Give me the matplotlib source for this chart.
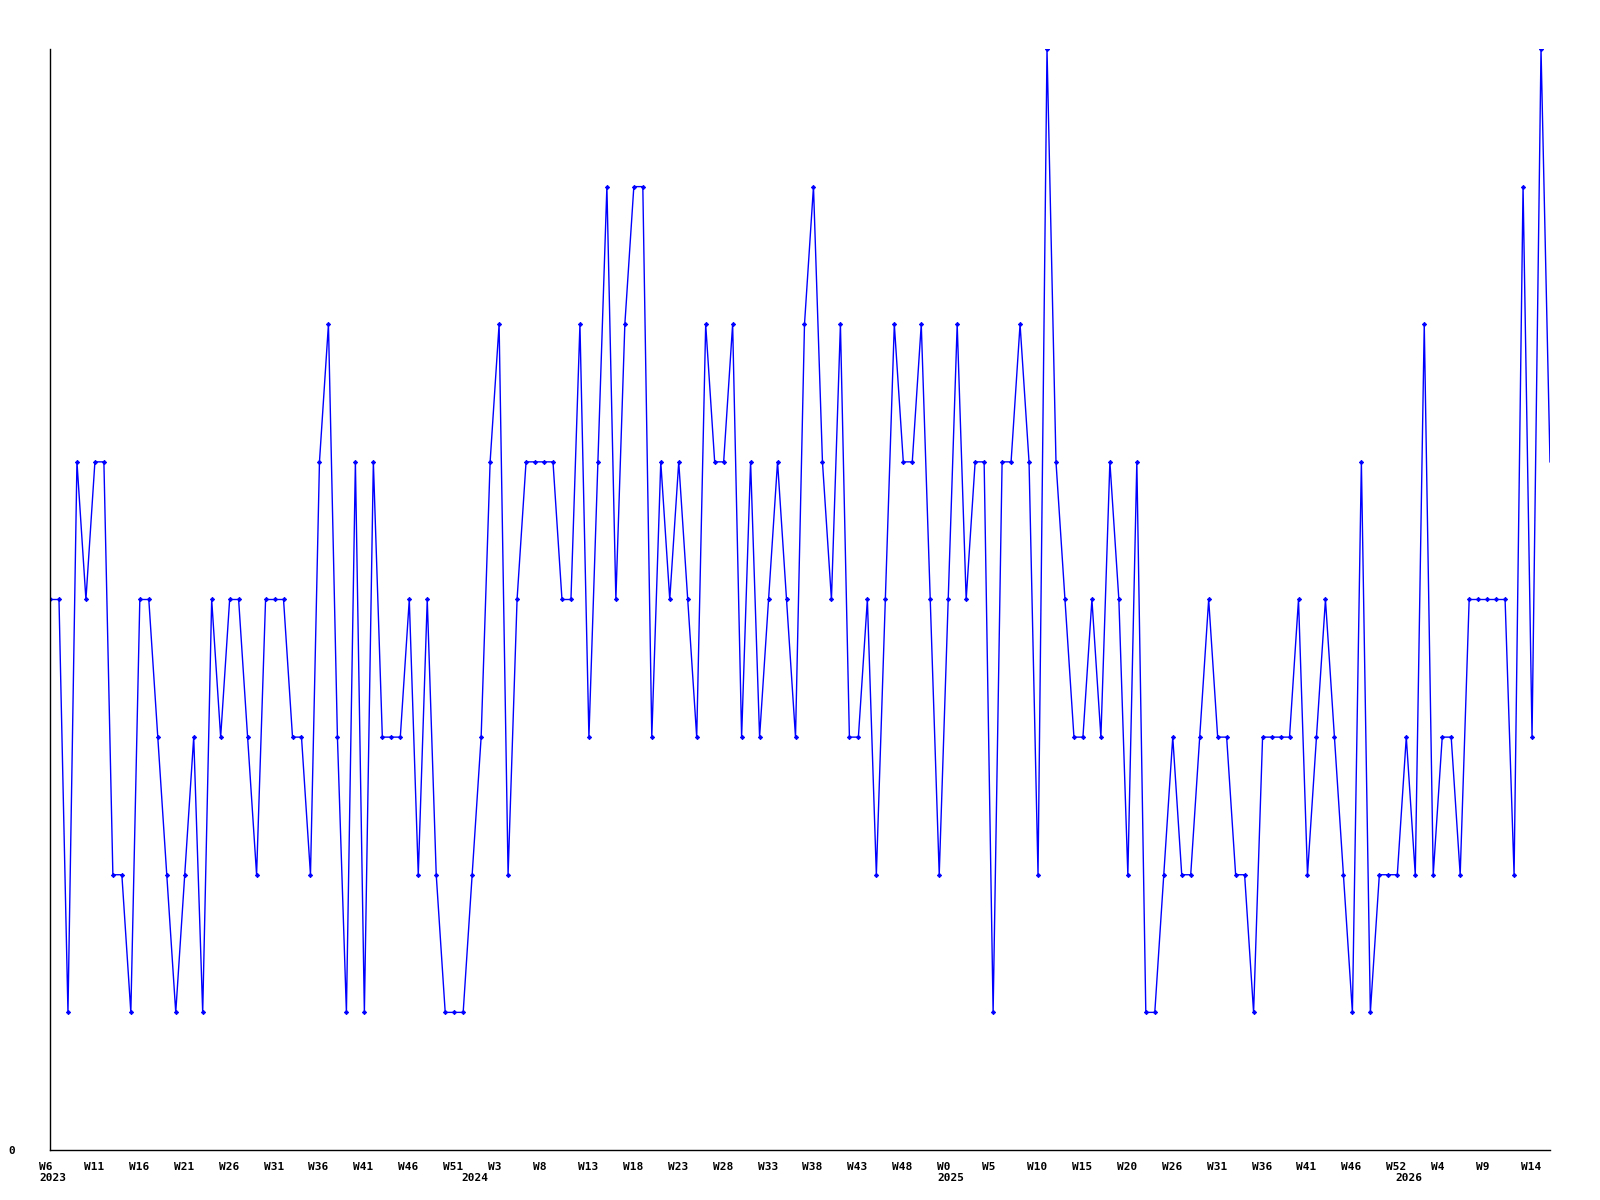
import matplotlib
matplotlib.use("Agg")
import matplotlib.pyplot as plt
from matplotlib.transforms import ScaledTranslation, blended_transform_factory

# weekly counts, one per point
values = [4, 4, 1, 5, 4, 5, 5, 2, 2, 1,
          4, 4, 3, 2, 1, 2, 3, 1, 4, 3,
          4, 4, 3, 2, 4, 4, 4, 3, 3, 2,
          5, 6, 3, 1, 5, 1, 5, 3, 3, 3,
          4, 2, 4, 2, 1, 1, 1, 2, 3, 5,
          6, 2, 4, 5, 5, 5, 5, 4, 4, 6,
          3, 5, 7, 4, 6, 7, 7, 3, 5, 4,
          5, 4, 3, 6, 5, 5, 6, 3, 5, 3,
          4, 5, 4, 3, 6, 7, 5, 4, 6, 3,
          3, 4, 2, 4, 6, 5, 5, 6, 4, 2,
          4, 6, 4, 5, 5, 1, 5, 5, 6, 5,
          2, 8, 5, 4, 3, 3, 4, 3, 5, 4,
          2, 5, 1, 1, 2, 3, 2, 2, 3, 4,
          3, 3, 2, 2, 1, 3, 3, 3, 3, 4,
          2, 3, 4, 3, 2, 1, 5, 1, 2, 2,
          2, 3, 2, 6, 2, 3, 3, 2, 4, 4,
          4, 4, 4, 2, 7, 3, 8, 5]

week_labels = ["W6", "W11", "W16", "W21", "W26", "W31", "W36", "W41", "W46", "W51",
               "W3", "W8", "W13", "W18", "W23", "W28", "W33", "W38", "W43", "W48",
               "W0", "W5", "W10", "W15", "W20", "W26", "W31", "W36", "W41", "W46",
               "W52", "W4", "W9", "W14"]
week_label_every = 5

years = ["2023", "2024", "2025", "2026"]
year_start_index = [0, 47, 100, 151]

x = list(range(len(values)))

fig = plt.figure(figsize=(16, 12), dpi=100)
ax = fig.add_axes([0.03125, 0.04167, 0.9375, 0.9175])

# the current (last, unfinished) week is drawn without a marker
ax.plot(x, values, color="#0000ff", lw=1.0, marker="D", markersize=2.2,
        markeredgewidth=0.6, markevery=slice(0, len(values) - 1))

ax.set_xlim(0, len(values) - 1)
ax.set_ylim(0, max(values))

for side in ("top", "right"):
    ax.spines[side].set_visible(False)
for side in ("left", "bottom"):
    ax.spines[side].set_linewidth(1.0)
    ax.spines[side].set_color("black")

font = dict(family="DejaVu Sans Mono", weight="bold", size=8)

ax.set_yticks([0])
ax.set_yticklabels(["0"], **font)
ax.tick_params(axis="y", length=0, pad=25)

ax.set_xticks(x[::week_label_every][:len(week_labels)])
ax.set_xticklabels(week_labels, **font)
ax.tick_params(axis="x", length=0, pad=9)
shift = ScaledTranslation(-11 / 100, 0, fig.dpi_scale_trans)
for lab in ax.get_xticklabels():
    lab.set_horizontalalignment("left")
    lab.set_transform(lab.get_transform() + shift)

trans = blended_transform_factory(ax.transData, ax.transAxes)
for yr, idx in zip(years, year_start_index):
    ax.text(idx, 0, yr, transform=trans + ScaledTranslation(-11 / 100, -23 / 100, fig.dpi_scale_trans),
            ha="left", va="top", **font)

fig.savefig("out.png", dpi=100)
